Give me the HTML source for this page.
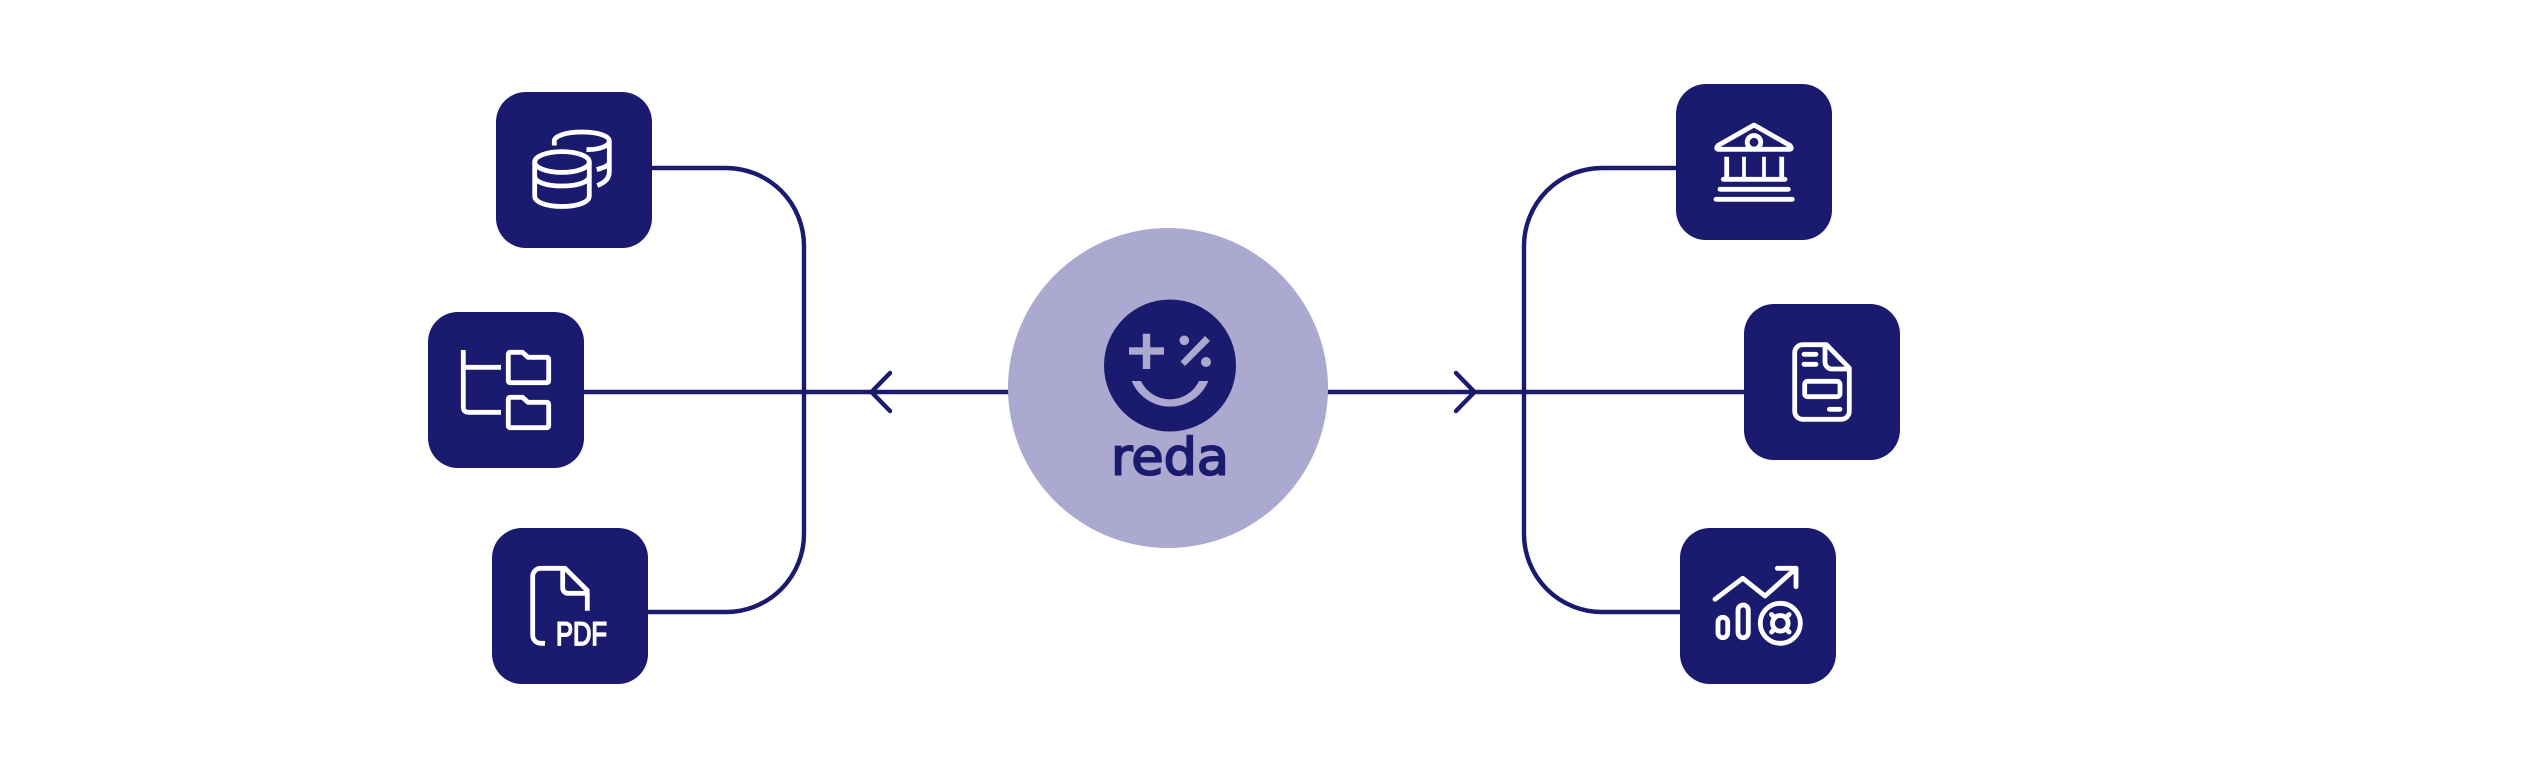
<!DOCTYPE html>
<html>
<head>
<meta charset="utf-8">
<style>
html,body{margin:0;padding:0;background:#fff;width:2524px;height:764px;overflow:hidden}
svg{display:block}
text{text-rendering:geometricPrecision}
</style>
</head>
<body>
<svg xmlns="http://www.w3.org/2000/svg" width="2524" height="764" viewBox="0 0 2524 764">
<rect width="2524" height="764" fill="#ffffff"/>
<g fill="none" stroke="#1a1a6e" stroke-width="4.4">
  <path d="M650 168H726A78 78 0 0 1 804 246V534A78 78 0 0 1 726 612H646"/>
  <path d="M584 392H1010"/>
  <path d="M1678 168H1602A78 78 0 0 0 1524 246V534A78 78 0 0 0 1602 612H1682"/>
  <path d="M1326 392H1746"/>
  <path d="M890 373L871.5 392L890 411" stroke-linecap="round" stroke-linejoin="miter"/>
  <path d="M1456 373L1474.5 392L1456 411" stroke-linecap="round" stroke-linejoin="miter"/>
</g>

<circle cx="1168" cy="388" r="160" fill="#aba9cf"/>
<circle cx="1170" cy="365.5" r="66" fill="#1a1a6e"/>
<g fill="#aba9cf">
  <rect x="1129" y="347.3" width="35" height="7.4"/>
  <rect x="1142.8" y="333.7" width="7.4" height="35.3"/>
  <circle cx="1184.3" cy="340.3" r="4.8"/>
  <circle cx="1206" cy="362" r="5"/>
  <path d="M1205 336L1210 341L1185 366L1180.5 361.5Z"/>
  <path d="M1131.7 381A41.4 41.4 0 0 0 1208.3 381H1199A32.1 32.1 0 0 1 1141 381Z"/>
</g>
<text x="1111" y="474.6" font-family="'DejaVu Sans',sans-serif" font-weight="400" font-size="51" fill="#1a1a6e" stroke="#1a1a6e" stroke-width="1.9" textLength="118" lengthAdjust="spacingAndGlyphs">reda</text>

<g fill="#1a1a6e">
  <rect x="496" y="92" width="156" height="156" rx="30"/>
  <rect x="428" y="312" width="156" height="156" rx="30"/>
  <rect x="492" y="528" width="156" height="156" rx="30"/>
  <rect x="1676" y="84" width="156" height="156" rx="30"/>
  <rect x="1744" y="304" width="156" height="156" rx="30"/>
  <rect x="1680" y="528" width="156" height="156" rx="30"/>
</g>

<g fill="none" stroke="#ffffff" stroke-width="4.8" stroke-linejoin="round">
  <!-- database -->
  <ellipse cx="562" cy="162" rx="27.3" ry="10.4"/>
  <path d="M534.7 162V196C534.7 202 546 206.5 562 206.5S589.3 202 589.3 196V162"/>
  <path d="M534.7 176C534.7 182 546 186 562 186S589.3 182 589.3 176"/>
  <path d="M554.3 145.5V141C554.3 136 566 132 582 132S609.3 136 609.3 141V172C609.3 179 604 183 597.3 185.5"/>
  <path d="M586.5 149.5C599 150 609.3 146 609.3 141"/>
  <path d="M596.7 169.5C603 168 608 166 609.3 163"/>

  <!-- folders -->
  <path d="M463.3 350V407Q463.3 412.3 468.5 412.3H501"/>
  <path d="M463.3 367.3H501"/>
  <path d="M510.3 352.3H522.5L528 357.3H546.7Q548.7 357.3 548.7 359.3V380.7Q548.7 382.7 546.7 382.7H510.3Q508.3 382.7 508.3 380.7V354.3Q508.3 352.3 510.3 352.3Z"/>
  <path d="M510.3 397.3H522.5L528 402.3H546.7Q548.7 402.3 548.7 404.3V425.7Q548.7 427.7 546.7 427.7H510.3Q508.3 427.7 508.3 425.7V399.3Q508.3 397.3 510.3 397.3Z"/>

  <!-- pdf -->
  <path d="M545 643.3H540.7A8 8 0 0 1 532.7 635.3V576.3A8 8 0 0 1 540.7 568.3H565L587.3 590.5V610.7"/>
  <path d="M562.7 570V588A5.3 5.3 0 0 0 568 593.3H587.3"/>

  <!-- bank -->
  <path d="M1754 125L1790 145.5Q1793 149.3 1789 149.3H1719Q1715 149.3 1718 145.5Z"/>
  <circle cx="1754" cy="142.3" r="6.8"/>
  <path d="M1726.7 156.7V178M1781.7 156.7V178"/>
  <path d="M1744 156.7V178M1764 156.7V178" stroke-width="3.8"/>
  <path d="M1723.3 179.3H1785M1720 189.3H1788.3M1716 199.3H1792.3" stroke-linecap="round"/>

  <!-- form document -->
  <path d="M1802 344.7H1826.5L1849.3 368V411.3A8 8 0 0 1 1841.3 419.3H1802.7A8 8 0 0 1 1794.7 411.3V352.7A8 8 0 0 1 1802.7 344.7Z"/>
  <path d="M1825 346V362A7 7 0 0 0 1832 369H1849"/>
  <path d="M1804 354.3H1816M1804 364.3H1816M1829.3 409.3H1840" stroke-linecap="round"/>
  <rect x="1804.7" y="381.3" width="35.3" height="15.4" rx="3"/>

  <!-- chart -->
  <path d="M1715 599.3L1742.7 578.3L1765 596L1796 568.3" stroke-linecap="round"/>
  <path d="M1777.3 568.3H1796V586.7" stroke-linecap="round"/>
  <rect x="1718" y="617.3" width="9.7" height="20.4" rx="4.85"/>
  <rect x="1738" y="605" width="10.3" height="32.7" rx="5.15"/>
  <circle cx="1780.3" cy="623.3" r="20"/>
  <circle cx="1780.3" cy="623.3" r="7.8"/>
  <path d="M1771.5 614.5L1774.8 617.8M1789.1 614.5L1785.8 617.8M1771.5 632.1L1774.8 628.8M1789.1 632.1L1785.8 628.8" stroke-linecap="round"/>
</g>
<text x="556" y="645" font-family="'Liberation Sans',sans-serif" font-weight="400" font-size="33" fill="#ffffff" stroke="#ffffff" stroke-width="1.7" textLength="51" lengthAdjust="spacingAndGlyphs">PDF</text>
</svg>
</body>
</html>
